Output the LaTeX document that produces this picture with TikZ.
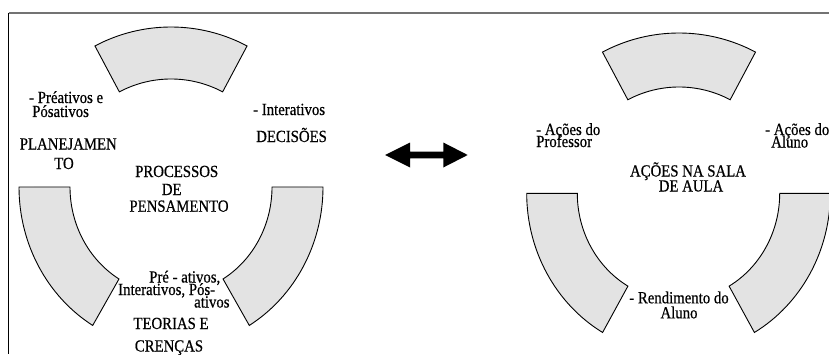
\documentclass[tikz,border=0pt]{standalone}
\usepackage{fontspec}
\setmainfont{Liberation Serif}[FakeStretch=0.87,FakeBold=0.6]
\begin{document}
\begin{tikzpicture}[x=1pt,y=1pt,
  seg/.style={draw=black, line width=0.9pt, fill=black!11, line join=miter},
  lbl/.style={inner sep=0pt, font=\fontsize{17}{17}\selectfont},
  frametop/.style={line width=1.3pt, black!55},
  frameleft/.style={line width=1pt, black}]
\useasboundingbox (0,0) rectangle (829,354);
\clip (0,0) rectangle (829,354);
% frame
\draw[frametop] (8.5,341) -- (829,341);
\draw[frameleft] (8.5,341) -- (8.5,0);
% left cycle
\draw[seg] (171,165) ++(62:162) arc[start angle=62,end angle=118,radius=162]
  -- ++(118:-52) arc[start angle=118,end angle=62,radius=110] -- cycle;
\draw[seg] (19,167) arc[start angle=180,end angle=239,x radius=152,y radius=161.5]
  -- (118.98,75.03) arc[start angle=239,end angle=180,x radius=101,y radius=107.3] -- cycle;
\draw[seg] (323,167) arc[start angle=0,end angle=-59,x radius=152,y radius=161.5]
  -- (223.02,75.03) arc[start angle=-59,end angle=0,x radius=101,y radius=107.3] -- cycle;
% right cycle
\draw[seg] (679,158) ++(62:163) arc[start angle=62,end angle=118,radius=163]
  -- ++(118:-54) arc[start angle=118,end angle=62,radius=109] -- cycle;
\draw[seg] (526.7,160.7) arc[start angle=180,end angle=240,x radius=151.8,y radius=160.7]
  -- (627.9,67.86) arc[start angle=240,end angle=180,x radius=101.2,y radius=107.2] -- cycle;
\draw[seg] (830.3,160.7) arc[start angle=0,end angle=-60,x radius=151.8,y radius=160.7]
  -- (729.1,67.86) arc[start angle=-60,end angle=0,x radius=101.2,y radius=107.2] -- cycle;
% double arrow
\fill[black] (385,199) -- (410,211.5) -- (410,202.3) -- (443.3,202.3) -- (443.3,211.5)
  -- (467.7,199) -- (443.3,186.5) -- (443.3,195.7) -- (410,195.7) -- (410,186.5) -- cycle;
% left texts
\node[lbl, anchor=base west] (t1) at (29,251) {- Préativos e};
\node[lbl, anchor=base west] (t2) at (32,237) {Pósativos};
\node[lbl, anchor=base] (t3) at (68.3,204.5) {PLANEJAMEN};
\node[lbl, anchor=base] (t4) at (64,185) {TO};
\node[lbl, anchor=base] (t5) at (176.7,177) {PROCESSOS};
\node[lbl, anchor=base] (t6) at (171.7,159) {DE};
\node[lbl, anchor=base] (t7) at (179,142.3) {PENSAMENTO};
\node[lbl, anchor=base west] (t8) at (253,239) {- Interativos};
\node[lbl, anchor=base west] (t9) at (256,212) {DECISÕES};
\node[lbl, anchor=base west] (t10) at (149,71.5) {Pré - ativos,};
\node[lbl, anchor=base west] (t11) at (118,59) {Interativos, Pós-};
\node[lbl, anchor=base west] (t12) at (194,46.5) {ativos};
\node[lbl, anchor=base] (t13) at (171,25) {TEORIAS E};
\node[lbl, anchor=base] (t14) at (169,2.5) {CRENÇAS};
% right texts
\node[lbl, anchor=base west] (t15) at (536,219) {- Ações do};
\node[lbl, anchor=base west] (t16) at (536,207) {Professor};
\node[lbl, anchor=base west] (t17) at (765,219) {- Ações do};
\node[lbl, anchor=base west] (t18) at (771,206.5) {Aluno};
\node[lbl, anchor=base] (t19) at (688,177.5) {AÇÕES NA SALA};
\node[lbl, anchor=base] (t20) at (691,162.5) {DE AULA};
\node[lbl, anchor=base] (t21) at (679,50.7) {- Rendimento do};
\node[lbl, anchor=base] (t22) at (679,35.7) {Aluno};
\end{tikzpicture}
\end{document}
